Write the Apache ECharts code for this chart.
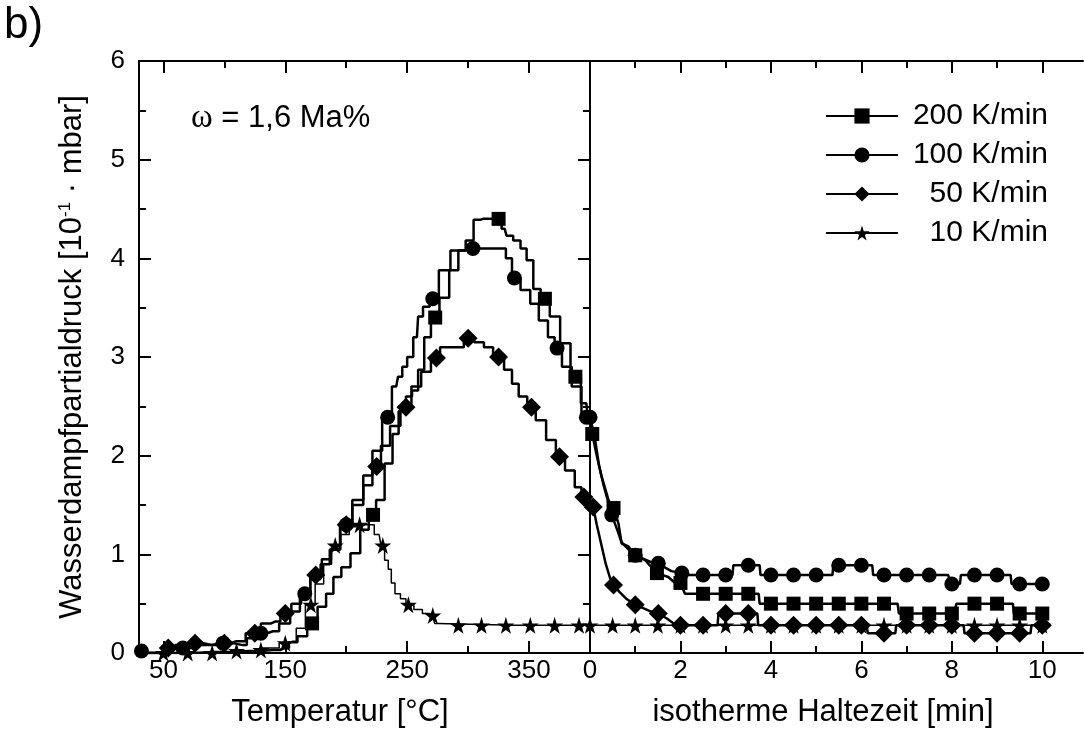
<!DOCTYPE html>
<html><head><meta charset="utf-8">
<script src="https://cdn.jsdelivr.net/npm/echarts@6/dist/echarts.min.js"></script>
<style>html,body{margin:0;padding:0;background:#fff}#c{width:1084px;height:745px}</style>
</head><body><div id="c"></div>
<script>
// ---------- DATA ----------
const seriesNames = ['200 K/min', '100 K/min', '50 K/min', '10 K/min'];
const tempMajorTicks = [50, 150, 250, 350];
const tempMinorTicks = [100, 200, 300];
const timeMajorTicks = [0, 2, 4, 6, 8, 10];
const timeMinorTicks = [1, 3, 5, 7, 9];

// 200 K/min  (temperature [°C], pressure)
const s200Temp = [[30,0],[60,0],[90,0.01],[120,0.02],[140,0.03],[150,0.05],[156,0.11],[164,0.17],[172,0.3],[181,0.47],[186,0.6],[193,0.77],[199,0.87],[208,1.01],[215,1.25],[222,1.4],[227,1.55],[236,1.92],[240,2.22],[246,2.45],[252,2.6],[256,2.66],[262,2.87],[266,3.2],[273,3.4],[280,3.6],[289,3.88],[295,4.08],[301,4.18],[308,4.39],[312,4.4],[325,4.4],[330,4.3],[333,4.23],[341,4.18],[345,4.1],[351,3.98],[356,3.69],[363,3.59],[371,3.41],[380,3.14],[388,2.8],[397,2.53],[400,2.35]];
const s200TempMarks = [[172,0.3],[222,1.4],[273,3.4],[325,4.4],[363,3.59],[388,2.8]];
const s200Time = [[0,2.3],[0.05,2.22],[0.15,2.0],[0.25,1.8],[0.41,1.55],[0.52,1.47],[0.63,1.31],[0.7,1.11],[0.85,1.08],[1.0,0.99],[1.22,0.94],[1.48,0.81],[1.73,0.77],[1.88,0.71],[2.0,0.71],[2.1,0.6],[3.73,0.6],[3.75,0.5],[6.8,0.5],[6.83,0.4],[8.05,0.4],[8.1,0.5],[9.35,0.5],[9.37,0.4],[10,0.4]];
const s200TimeMarks = [[0.05,2.22],[0.52,1.47],[1.0,0.99],[1.48,0.81],[2.0,0.71],[2.5,0.6],[3,0.6],[3.5,0.6],[4,0.5],[4.5,0.5],[5,0.5],[5.5,0.5],[6,0.5],[6.5,0.5],[7,0.4],[7.5,0.4],[8,0.4],[8.5,0.5],[9,0.5],[9.5,0.4],[10,0.4]];

// 100 K/min
const s100Temp = [[30,0],[50,0],[52,0.05],[66,0.05],[80,0.08],[99,0.1],[115,0.08],[122,0.15],[130,0.2],[140,0.22],[150,0.3],[158,0.42],[166,0.6],[175,0.75],[183,0.9],[190,1.05],[200,1.3],[210,1.55],[218,1.8],[225,2.05],[234,2.39],[241,2.7],[244,2.8],[248,2.9],[252,3.0],[258,3.2],[260,3.41],[266,3.51],[271,3.59],[281,3.88],[290,4.08],[304,4.1],[328,4.1],[334,4.0],[338,3.8],[348,3.68],[354,3.54],[362,3.37],[369,3.2],[373,3.09],[381,2.9],[389,2.7],[397,2.39],[400,2.39]];
const s100TempMarks = [[32,0.02],[66,0.05],[99,0.1],[130,0.2],[166,0.6],[200,1.3],[234,2.39],[271,3.59],[304,4.1],[338,3.8],[373,3.09],[397,2.39]];
const s100Time = [[0,2.39],[0.1,2.2],[0.2,1.9],[0.3,1.7],[0.48,1.4],[0.6,1.25],[0.7,1.12],[0.85,1.05],[1.0,0.99],[1.2,0.95],[1.4,0.91],[1.6,0.88],[1.8,0.83],[2.03,0.81],[2.2,0.79],[3.15,0.79],[3.17,0.89],[3.75,0.89],[3.77,0.79],[5.36,0.79],[5.38,0.89],[6.24,0.89],[6.26,0.79],[7.92,0.79],[7.97,0.7],[8.18,0.7],[8.2,0.79],[9.3,0.79],[9.32,0.7],[10,0.7]];
const s100TimeMarks = [[0,2.39],[0.48,1.4],[1,0.99],[1.51,0.91],[2.03,0.81],[2.5,0.79],[3,0.79],[3.5,0.89],[4,0.79],[4.5,0.79],[5,0.79],[5.5,0.89],[6,0.89],[6.5,0.79],[7,0.79],[7.5,0.79],[8,0.7],[8.5,0.79],[9,0.79],[9.5,0.7],[10,0.7]];

// 50 K/min
const s50Temp = [[30,0],[50,0],[54,0.05],[65,0.08],[76,0.1],[90,0.08],[100,0.1],[110,0.12],[125,0.2],[135,0.3],[142,0.32],[150,0.4],[160,0.5],[166,0.6],[175,0.79],[185,0.95],[190,1.05],[200,1.3],[210,1.5],[218,1.7],[225,1.89],[232,2.1],[240,2.3],[249,2.49],[258,2.7],[265,2.85],[274,2.99],[280,3.1],[293,3.1],[300,3.19],[310,3.15],[316,3.1],[325,3.0],[334,2.87],[338,2.73],[345,2.6],[352,2.49],[359,2.36],[369,2.16],[375,1.99],[384,1.85],[391,1.68],[395,1.58],[400,1.52]];
const s50TempMarks = [[54,0.05],[76,0.1],[100,0.1],[125,0.2],[150,0.4],[175,0.79],[200,1.3],[225,1.89],[249,2.49],[274,2.99],[300,3.19],[325,3.0],[352,2.49],[375,1.99],[395,1.58]];
const s50Time = [[0,1.55],[0.07,1.48],[0.15,1.3],[0.25,1.1],[0.35,0.9],[0.45,0.75],[0.52,0.69],[0.65,0.62],[0.8,0.55],[1.0,0.49],[1.2,0.45],[1.35,0.42],[1.51,0.4],[1.7,0.35],[1.85,0.3],[2.0,0.28],[2.82,0.28],[2.84,0.4],[3.7,0.4],[3.72,0.28],[6.12,0.28],[6.14,0.2],[6.75,0.2],[6.77,0.28],[8.26,0.28],[8.28,0.2],[9.74,0.2],[9.76,0.28],[10,0.28]];
const s50TimeMarks = [[0.07,1.48],[0.52,0.69],[1,0.49],[1.51,0.4],[2,0.28],[2.5,0.28],[3,0.4],[3.5,0.4],[4,0.28],[4.5,0.28],[5,0.28],[5.5,0.28],[6,0.28],[6.5,0.2],[7,0.28],[7.5,0.28],[8,0.28],[8.5,0.2],[9,0.2],[9.5,0.2],[10,0.28]];

// 10 K/min
const s10Temp = [[30,0],[120,0],[140,0.05],[150,0.1],[156,0.12],[162,0.25],[171,0.49],[178,0.7],[185,0.9],[191,1.09],[200,1.2],[205,1.28],[211,1.3],[219,1.3],[227,1.2],[230,1.09],[233,0.94],[236,0.85],[238,0.71],[242,0.6],[247,0.55],[251,0.49],[260,0.44],[265,0.4],[271,0.38],[274,0.3],[276,0.28],[400,0.28]];
const s10TempMarks = [[50,0],[70,0],[90,0],[110,0.02],[130,0.03],[150,0.1],[171,0.49],[191,1.09],[211,1.3],[230,1.09],[251,0.49],[271,0.38],[292,0.28],[311,0.28],[331,0.28],[351,0.28],[371,0.28],[391,0.28]];
const s10Time = [[0,0.28],[10,0.28]];
const s10TimeMarks = [[0,0.28],[0.5,0.28],[1,0.28],[1.5,0.28],[2,0.28],[2.5,0.28],[3,0.28],[3.5,0.28],[4,0.28],[4.5,0.28],[5,0.28],[5.5,0.28],[6,0.28],[6.5,0.28],[7,0.28],[7.5,0.28],[8,0.28],[8.5,0.28],[9,0.28],[9.5,0.28],[10,0.28]];

// ---------- STYLE ----------
const FONT = 'Liberation Sans, Arial, sans-serif';
const STAR = 'path://M50,0 L61,35 L98,35 L68,57 L79,91 L50,70 L21,91 L32,57 L2,35 L39,35 Z';
const defs = [
  {name: seriesNames[0], sym: 'rect', size: 14, lw: 2.5, temp: s200Temp, tempM: s200TempMarks, time: s200Time, timeM: s200TimeMarks},
  {name: seriesNames[1], sym: 'circle', size: 15, lw: 2.5, temp: s100Temp, tempM: s100TempMarks, time: s100Time, timeM: s100TimeMarks},
  {name: seriesNames[2], sym: 'diamond', size: 19, lw: 2.5, temp: s50Temp, tempM: s50TempMarks, time: s50Time, timeM: s50TimeMarks},
  {name: seriesNames[3], sym: STAR, size: 17, lw: 1.5, temp: s10Temp, tempM: s10TempMarks, time: s10Time, timeM: s10TimeMarks}
];

const axLine = {show: true, lineStyle: {color: '#000', width: 2}};
const noLine = {show: false};
function tick(len, vals) {
  const t = {show: true, inside: true, length: len, lineStyle: {color: '#000', width: 2}};
  if (vals) t.customValues = vals;
  return t;
}
const lbl = {fontSize: 26, color: '#000', fontFamily: FONT};

const xAxis = [
  {gridIndex: 0, type: 'value', min: 30, max: 400, position: 'bottom', axisLine: axLine,
   axisTick: tick(12, tempMajorTicks), axisLabel: Object.assign({customValues: tempMajorTicks, margin: 5}, lbl), splitLine: {show: false}},
  {gridIndex: 0, type: 'value', min: 30, max: 400, position: 'bottom', axisLine: noLine,
   axisTick: tick(7, tempMinorTicks), axisLabel: {show: false}, splitLine: {show: false}},
  {gridIndex: 0, type: 'value', min: 30, max: 400, position: 'top', axisLine: axLine,
   axisTick: tick(12, tempMajorTicks), axisLabel: {show: false}, splitLine: {show: false}},
  {gridIndex: 0, type: 'value', min: 30, max: 400, position: 'top', axisLine: noLine,
   axisTick: tick(7, tempMinorTicks), axisLabel: {show: false}, splitLine: {show: false}},
  {gridIndex: 1, type: 'value', min: 0, max: 10.9, position: 'bottom', axisLine: axLine,
   axisTick: tick(12, timeMajorTicks), axisLabel: Object.assign({customValues: timeMajorTicks, margin: 5}, lbl), splitLine: {show: false}},
  {gridIndex: 1, type: 'value', min: 0, max: 10.9, position: 'bottom', axisLine: noLine,
   axisTick: tick(7, timeMinorTicks), axisLabel: {show: false}, splitLine: {show: false}},
  {gridIndex: 1, type: 'value', min: 0, max: 10.9, position: 'top', axisLine: axLine,
   axisTick: tick(12, timeMajorTicks), axisLabel: {show: false}, splitLine: {show: false}},
  {gridIndex: 1, type: 'value', min: 0, max: 10.9, position: 'top', axisLine: noLine,
   axisTick: tick(7, timeMinorTicks), axisLabel: {show: false}, splitLine: {show: false}}
];
const minor = {show: true, splitNumber: 2, length: 7, lineStyle: {color: '#000', width: 2}};
const yAxis = [
  {gridIndex: 0, type: 'value', min: 0, max: 6, interval: 1, position: 'left', axisLine: axLine,
   axisTick: tick(12), minorTick: minor, axisLabel: Object.assign({margin: 14}, lbl),
   splitLine: {show: false}, minorSplitLine: {show: false}},
  {gridIndex: 1, type: 'value', min: 0, max: 6, interval: 1, position: 'left', axisLine: axLine,
   axisTick: {show: false}, axisLabel: {show: false}, splitLine: {show: false}},
  {gridIndex: 1, type: 'value', min: 0, max: 6, interval: 1, position: 'right', axisLine: axLine,
   axisTick: tick(12), minorTick: minor, axisLabel: {show: false},
   splitLine: {show: false}, minorSplitLine: {show: false}}
];

const series = [];
defs.forEach(d => {
  series.push({type: 'line', name: d.name, xAxisIndex: 0, yAxisIndex: 0, data: d.temp, step: 'middle',
    symbol: d.sym, symbolSize: d.size, showSymbol: false, silent: true,
    lineStyle: {color: '#000', width: d.lw}, itemStyle: {color: '#000'}, z: 2});
  series.push({type: 'line', name: d.name, xAxisIndex: 4, yAxisIndex: 1, data: d.time,
    symbol: d.sym, symbolSize: d.size, showSymbol: false, silent: true,
    lineStyle: {color: '#000', width: d.lw}, itemStyle: {color: '#000'}, z: 2});
});
defs.forEach(d => {
  series.push({type: 'scatter', name: d.name, xAxisIndex: 0, yAxisIndex: 0, data: d.tempM,
    symbol: d.sym, symbolSize: d.size, itemStyle: {color: '#000', opacity: 1}, silent: true, z: 3});
  series.push({type: 'scatter', name: d.name, xAxisIndex: 4, yAxisIndex: 1, data: d.timeM,
    symbol: d.sym, symbolSize: d.size, itemStyle: {color: '#000', opacity: 1}, silent: true, z: 3});
});

const option = {
  animation: false,
  backgroundColor: '#fff',
  grid: [
    {left: 139, top: 61, width: 451, height: 592},
    {left: 590, top: 61, width: 493, height: 592}
  ],
  xAxis, yAxis, series,
  legend: {
    data: seriesNames, orient: 'vertical', left: 825, top: 101, padding: 0,
    itemWidth: 72, itemHeight: 19, itemGap: 9, selectedMode: false,
    formatter: n => '{a|' + n + '}',
    textStyle: {fontSize: 30, color: '#000', fontFamily: FONT, lineHeight: 30,
      rich: {a: {width: 145, align: 'right', fontSize: 30, fontFamily: FONT, color: '#000', lineHeight: 30}}}
  },
  graphic: [
    {type: 'text', left: 4, top: 4, style: {text: 'b)', fontSize: 44, fontFamily: FONT, fill: '#000'}},
    {type: 'text', x: 191, y: 118, style: {text: '{w|ω} = 1,6 Ma%', fontSize: 31, fontFamily: FONT, fill: '#000', verticalAlign: 'middle',
      rich: {w: {fontSize: 33, fontFamily: 'Liberation Serif, DejaVu Serif, serif', fill: '#000'}}}},
    {type: 'text', x: 340, y: 712, style: {text: 'Temperatur [°C]', fontSize: 31, fontFamily: FONT, fill: '#000', align: 'center', verticalAlign: 'middle'}},
    {type: 'text', x: 823, y: 712, style: {text: 'isotherme Haltezeit [min]', fontSize: 31, fontFamily: FONT, fill: '#000', align: 'center', verticalAlign: 'middle'}},
    {type: 'text', x: 72, y: 357, rotation: Math.PI / 2,
      style: {text: 'Wasserdampfpartialdruck [10{s|-1} · mbar]', fontSize: 31, fontFamily: FONT, fill: '#000', align: 'center', verticalAlign: 'middle',
        rich: {s: {fontSize: 17, fontFamily: FONT, fill: '#000', verticalAlign: 'top', padding: [0, 0, 13, 0]}}}}
  ]
};
const chart = echarts.init(document.getElementById('c'), null, {renderer: 'canvas'});
chart.setOption(option);
</script></body></html>
